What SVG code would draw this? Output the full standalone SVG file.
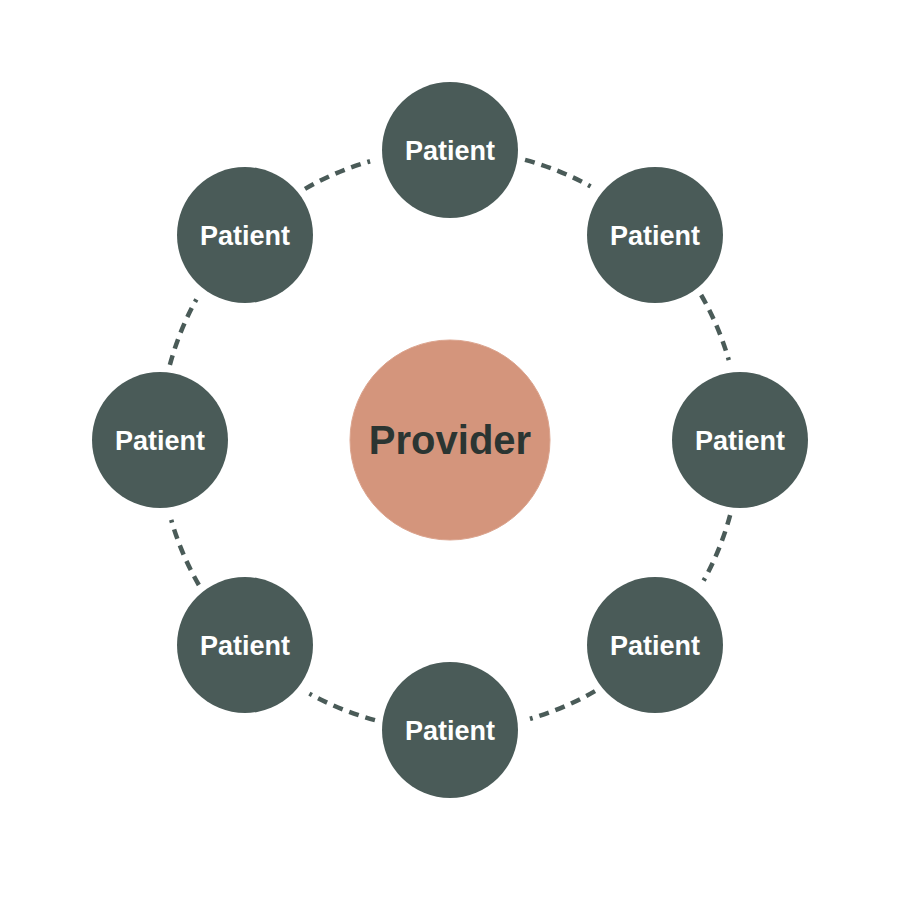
<svg xmlns="http://www.w3.org/2000/svg" width="900" height="900" viewBox="0 0 900 900">
<style>
.p circle{fill:#4A5B58}
.p text{fill:#FFFFFF;font-family:"Liberation Sans",Arial,sans-serif;font-weight:bold;font-size:27px;text-anchor:middle}
.c path{fill:none;stroke:#4A5B58;stroke-width:4.5;stroke-dasharray:10 7}
</style>
<rect width="900" height="900" fill="#FFFFFF"/>
<g id="connectors" class="c">
<path d="M525.05,159.89 A290,290 0 0 1 590.6,186.4"/>
<path d="M701.14,295 A290,290 0 0 1 728.77,360.07"/>
<path d="M730.12,515.06 A290,290 0 0 1 703.63,580.6"/>
<path d="M595,691.14 A290,290 0 0 1 529.93,718.77"/>
<path d="M374.95,720.11 A290,290 0 0 1 309.4,693.6"/>
<path d="M198.86,585 A290,290 0 0 1 171.23,519.92"/>
<path d="M169.88,364.94 A290,290 0 0 1 196.37,299.41"/>
<path d="M305,188.86 A290,290 0 0 1 370.07,161.23"/>
</g>
<g id="provider">
<circle cx="450" cy="440" r="100" fill="#D4957C" stroke="#DCA58F" stroke-width="1"/>
<text x="450" y="454" fill="#2B3532" font-family="'Liberation Sans',Arial,sans-serif" font-weight="bold" font-size="40" text-anchor="middle">Provider</text>
</g>
<g id="patient-top" class="p"><circle cx="450" cy="150" r="68"/><text x="450" y="160">Patient</text></g>
<g id="patient-top-right" class="p"><circle cx="655" cy="235" r="68"/><text x="655" y="245">Patient</text></g>
<g id="patient-right" class="p"><circle cx="740" cy="440" r="68"/><text x="740" y="450">Patient</text></g>
<g id="patient-bottom-right" class="p"><circle cx="655" cy="645" r="68"/><text x="655" y="655">Patient</text></g>
<g id="patient-bottom" class="p"><circle cx="450" cy="730" r="68"/><text x="450" y="740">Patient</text></g>
<g id="patient-bottom-left" class="p"><circle cx="245" cy="645" r="68"/><text x="245" y="655">Patient</text></g>
<g id="patient-left" class="p"><circle cx="160" cy="440" r="68"/><text x="160" y="450">Patient</text></g>
<g id="patient-top-left" class="p"><circle cx="245" cy="235" r="68"/><text x="245" y="245">Patient</text></g>
</svg>
